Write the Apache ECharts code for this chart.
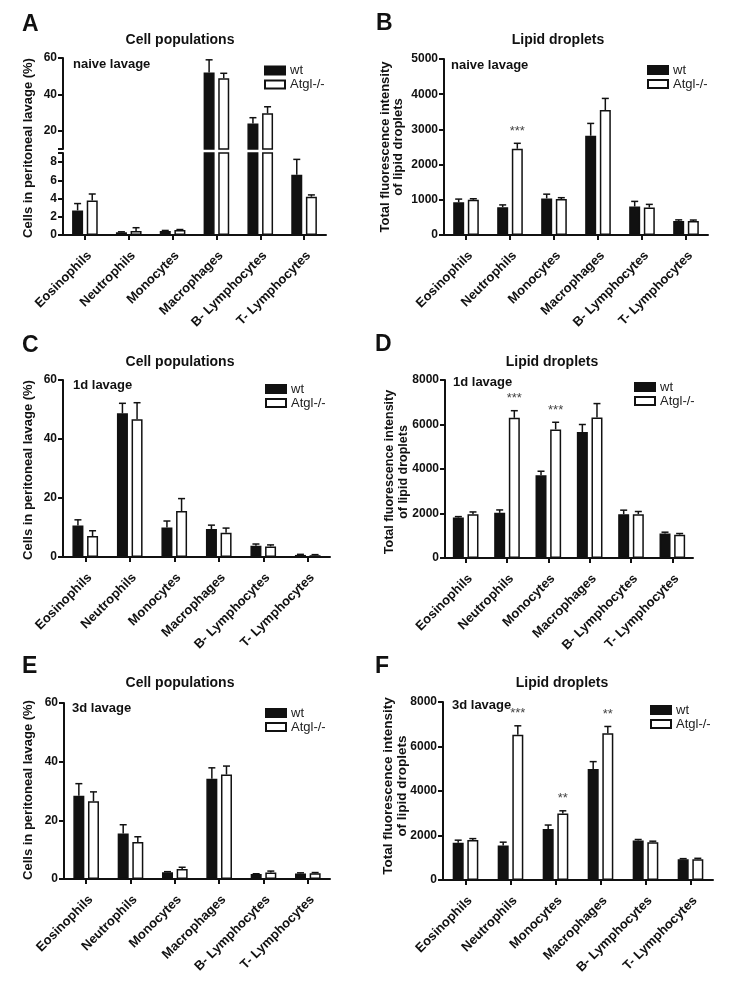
<!DOCTYPE html>
<html>
<head>
<meta charset="utf-8">
<script src="https://cdn.jsdelivr.net/npm/echarts@6/dist/echarts.min.js"></script>
<style>
html,body{margin:0;padding:0;background:#fff;}
#c{width:729px;height:983px;}
</style>
</head>
<body>
<div id="c"></div>
<script>
// ---------- DATA ----------
const categories = ['Eosinophils','Neutrophils','Monocytes','Macrophages','B- Lymphocytes','T- Lymphocytes'];
const seriesNames = ['wt','Atgl-/-'];

// A: cell populations, naive lavage (%)
const A_wt      = [2.7, 0.3, 0.45, 52.0, 24.0, 6.6];
const A_wtErr   = [0.75, 0.05, 0.05, 7.0, 3.2, 1.7];
const A_atgl    = [3.8, 0.45, 0.55, 48.9, 29.6, 4.2];
const A_atglErr = [0.7, 0.35, 0.05, 2.7, 3.6, 0.2];
const A_upperTicks = [20, 40, 60];
const A_lowerTicks = [0, 2, 4, 6, 8];

// B: lipid droplets, naive lavage
const B_wt      = [930, 790, 1040, 2820, 810, 400];
const B_wtErr   = [90, 65, 120, 350, 145, 30];
const B_atgl    = [1000, 2450, 1020, 3550, 780, 395];
const B_atglErr = [30, 155, 40, 330, 90, 30];
const B_sig     = ['', '***', '', '', '', ''];

// C: cell populations, 1d lavage (%)
const C_wt      = [10.7, 48.7, 10.0, 9.5, 3.8, 0.7];
const C_wtErr   = [1.9, 3.4, 2.2, 1.3, 0.6, 0.2];
const C_atgl    = [7.1, 46.7, 15.6, 8.2, 3.6, 0.6];
const C_atglErr = [1.8, 5.6, 4.2, 1.6, 0.5, 0.2];

// D: lipid droplets, 1d lavage
const D_wt      = [1820, 2030, 3720, 5660, 1970, 1100];
const D_wtErr   = [40, 130, 180, 340, 180, 60];
const D_atgl    = [1970, 6300, 5780, 6320, 1970, 1050];
const D_atglErr = [100, 320, 320, 620, 120, 50];
const D_sig     = ['', '***', '***', '', '', ''];

// E: cell populations, 3d lavage (%)
const E_wt      = [28.4, 15.5, 2.3, 34.2, 1.7, 1.9];
const E_wtErr   = [4.1, 3.0, 0.2, 3.7, 0.1, 0.2];
const E_atgl    = [26.5, 12.6, 3.4, 35.6, 2.2, 2.0];
const E_atglErr = [3.2, 1.8, 0.6, 2.9, 0.5, 0.2];

// F: lipid droplets, 3d lavage
const F_wt      = [1670, 1550, 2290, 4990, 1775, 930];
const F_wtErr   = [120, 150, 180, 330, 45, 30];
const F_atgl    = [1800, 6530, 2990, 6600, 1700, 930];
const F_atglErr = [60, 400, 120, 300, 45, 45];
const F_sig     = ['', '***', '**', '**', '', ''];

const panelLetters = ['A','B','C','D','E','F'];
const panelTitles = ['Cell populations','Lipid droplets','Cell populations','Lipid droplets','Cell populations','Lipid droplets'];
const panelConditions = ['naive lavage','naive lavage','1d lavage','1d lavage','3d lavage','3d lavage'];
const cellAxisName = 'Cells in peritoneal lavage (%)';
const lipidAxisName = 'Total fluorescence intensity\nof lipid droplets';

// ---------- STYLE / LAYOUT ----------
const FONT = "'Liberation Sans', Arial, Helvetica, sans-serif";
const INK = '#111';
const BAR_W = 11;
const BAR_GAP = 0.33;

const grids = [
  {left: 63, top: 58, width: 263, height: 91},   // 0 A upper
  {left: 63, top: 153, width: 263, height: 82},  // 1 A lower
  {left: 444, top: 59, width: 264, height: 176}, // 2 B
  {left: 63, top: 380, width: 267, height: 177}, // 3 C
  {left: 445, top: 380, width: 248, height: 178},// 4 D
  {left: 64, top: 703, width: 266, height: 176}, // 5 E
  {left: 443, top: 702, width: 270, height: 178} // 6 F
];

function xAxisFor(gi, show) {
  return {
    type: 'category', gridIndex: gi, data: categories, show: show,
    boundaryGap: true,
    axisLine: {show: true, lineStyle: {color: INK, width: 2}},
    axisTick: {show: true, alignWithLabel: true, length: 5, lineStyle: {color: INK, width: 2}},
    axisLabel: {rotate: 45, interval: 0, margin: 14, verticalAlign: 'top', fontSize: 13, fontWeight: 'bold', color: INK, fontFamily: FONT},
    splitLine: {show: false}
  };
}
function yAxisFor(gi, min, max, interval, extra) {
  const ax = {
    type: 'value', gridIndex: gi, min: min, max: max,
    axisLine: {show: true, lineStyle: {color: INK, width: 2}},
    axisTick: {show: true, length: 5, lineStyle: {color: INK, width: 2}},
    axisLabel: {margin: 6, fontSize: 12, fontWeight: 'bold', color: INK, fontFamily: FONT,
                formatter: function (v) { return String(v); }},
    splitLine: {show: false}
  };
  if (interval != null) ax.interval = interval;
  if (extra) {
    if (extra.labels) ax.axisLabel.customValues = extra.labels;
    if (extra.ticks) ax.axisTick.customValues = extra.ticks;
  }
  return ax;
}

const xAxes = [
  xAxisFor(0, false), xAxisFor(1, true), xAxisFor(2, true), xAxisFor(3, true),
  xAxisFor(4, true), xAxisFor(5, true), xAxisFor(6, true)
];
const yAxes = [
  yAxisFor(0, 10, 60, null, {labels: A_upperTicks, ticks: [10].concat(A_upperTicks)}),
  yAxisFor(1, 0, 9, null, {labels: A_lowerTicks, ticks: A_lowerTicks.concat([9])}),
  yAxisFor(2, 0, 5000, 1000),
  yAxisFor(3, 0, 60, 20),
  yAxisFor(4, 0, 8000, 2000),
  yAxisFor(5, 0, 60, 20),
  yAxisFor(6, 0, 8000, 2000)
];

function barPair(gi, wt, atgl) {
  return [
    {type: 'bar', name: seriesNames[0], xAxisIndex: gi, yAxisIndex: gi, data: wt,
     barWidth: BAR_W, barGap: (BAR_GAP * 100) + '%', clip: true, animation: false,
     itemStyle: {color: INK, borderColor: INK, borderWidth: 1.5}},
    {type: 'bar', name: seriesNames[1], xAxisIndex: gi, yAxisIndex: gi, data: atgl,
     barWidth: BAR_W, barGap: (BAR_GAP * 100) + '%', clip: true, animation: false,
     itemStyle: {color: '#ffffff', borderColor: INK, borderWidth: 1.5}}
  ];
}

function errSeries(gi, wt, wtErr, atgl, atglErr, sig) {
  const rows = categories.map((c, i) => [i, wt[i], wtErr[i], atgl[i], atglErr[i]]);
  return {
    type: 'custom', name: 'err' + gi, xAxisIndex: gi, yAxisIndex: gi,
    clip: true, animation: false, silent: true, z: 5,
    data: rows,
    renderItem: function (params, api) {
      const i = api.value(0);
      const off = (BAR_W + BAR_W * BAR_GAP) / 2;
      const children = [];
      const pairs = [[1, 2, -1], [3, 4, 1]];
      let atglTopY = null, atglX = null;
      pairs.forEach(function (p) {
        const v = api.value(p[0]), e = api.value(p[1]);
        const base = api.coord([i, v]);
        const top = api.coord([i, v + e]);
        const x = base[0] + p[2] * off;
        children.push({type: 'line', shape: {x1: x, y1: base[1], x2: x, y2: top[1]},
          style: {stroke: INK, lineWidth: 1.5}});
        children.push({type: 'line', shape: {x1: x - 3.5, y1: top[1], x2: x + 3.5, y2: top[1]},
          style: {stroke: INK, lineWidth: 1.5}});
        if (p[2] === 1) { atglTopY = top[1]; atglX = x; }
      });
      if (sig && sig[i]) {
        children.push({type: 'text', x: atglX, y: atglTopY - 12,
          style: {text: sig[i], fill: '#444', font: '13px ' + FONT,
                  textAlign: 'center', textVerticalAlign: 'middle', align: 'center', verticalAlign: 'middle'}});
      }
      return {type: 'group', children: children};
    }
  };
}

let series = [];
series = series.concat(barPair(0, A_wt, A_atgl), [errSeries(0, A_wt, A_wtErr, A_atgl, A_atglErr, null)]);
series = series.concat(barPair(1, A_wt, A_atgl), [errSeries(1, A_wt, A_wtErr, A_atgl, A_atglErr, null)]);
series = series.concat(barPair(2, B_wt, B_atgl), [errSeries(2, B_wt, B_wtErr, B_atgl, B_atglErr, B_sig)]);
series = series.concat(barPair(3, C_wt, C_atgl), [errSeries(3, C_wt, C_wtErr, C_atgl, C_atglErr, null)]);
series = series.concat(barPair(4, D_wt, D_atgl), [errSeries(4, D_wt, D_wtErr, D_atgl, D_atglErr, D_sig)]);
series = series.concat(barPair(5, E_wt, E_atgl), [errSeries(5, E_wt, E_wtErr, E_atgl, E_atglErr, null)]);
series = series.concat(barPair(6, F_wt, F_atgl), [errSeries(6, F_wt, F_wtErr, F_atgl, F_atglErr, F_sig)]);

const legendPos = [[264, 63.5], [647, 63], [265, 382], [634, 380], [265, 706], [650, 703]];
const legends = legendPos.map(function (p) {
  return {
    data: seriesNames, orient: 'vertical', left: p[0], top: p[1], padding: 0,
    itemWidth: 20, itemHeight: 8, itemGap: 0, icon: 'rect', selectedMode: false,
    textStyle: {fontSize: 13, color: '#222', fontFamily: FONT, lineHeight: 14}
  };
});

// text decorations
const letterPos = [[22, 25], [376, 24], [22, 345.5], [375, 345], [22, 666.5], [375, 666.5]];
const titlePos = [[180, 40], [558, 40], [180, 362], [552, 362], [180, 683], [562, 683]];
const condPos = [[73, 64], [451, 65], [73, 385], [453, 382], [72, 708], [452, 705]];
const yNamePos = [
  {x: 28, y: 148, size: 13, lh: 14},
  {x: 392, y: 147, size: 13, lh: 12.5},
  {x: 28, y: 470, size: 13, lh: 14},
  {x: 397, y: 472, size: 12.5, lh: 14},
  {x: 28, y: 790, size: 13, lh: 14},
  {x: 395, y: 786, size: 13.5, lh: 14}
];

const graphics = [];
function txt(x, y, text, font, align, rot, lh) {
  const g = {type: 'text', x: x, y: y, silent: true,
    style: {text: text, font: font, fill: INK, textAlign: align, align: align,
            textVerticalAlign: 'middle', verticalAlign: 'middle'}};
  if (lh) g.style.lineHeight = lh;
  if (rot) { g.rotation = rot; }
  return g;
}
for (let k = 0; k < 6; k++) {
  graphics.push(txt(letterPos[k][0], letterPos[k][1], panelLetters[k], 'bold 23px ' + FONT, 'left'));
  graphics.push(txt(titlePos[k][0], titlePos[k][1], panelTitles[k], 'bold 14px ' + FONT, 'center'));
  graphics.push(txt(condPos[k][0], condPos[k][1], panelConditions[k], 'bold 13px ' + FONT, 'left'));
  const yn = yNamePos[k];
  graphics.push(txt(yn.x, yn.y, (k % 2 === 0) ? cellAxisName : lipidAxisName,
    'bold ' + yn.size + 'px ' + FONT, 'center', Math.PI / 2, yn.lh));
}

const chart = echarts.init(document.getElementById('c'), null, {renderer: 'canvas'});
chart.setOption({
  animation: false,
  backgroundColor: '#ffffff',
  textStyle: {fontFamily: FONT},
  grid: grids,
  xAxis: xAxes,
  yAxis: yAxes,
  legend: legends,
  series: series,
  graphic: graphics
});
</script>
</body>
</html>
